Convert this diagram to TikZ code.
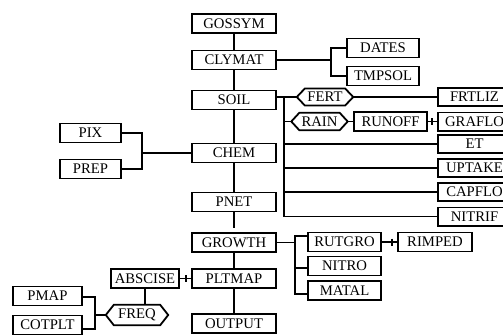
\documentclass[tikz,border=0pt]{standalone}
\usepackage{fontspec}
\setmainfont{Liberation Serif}
\tikzset{
  wire/.style={line width=1.8pt},
  box/.style={draw, line width=1.8pt, inner sep=0pt, minimum height=19pt,
    font=\fontsize{14.7}{16}\selectfont},
  mainbox/.style={box, minimum width=84.2pt},
  colbox/.style={box, minimum width=73.2pt, minimum height=18.2pt},
  hexcore/.style={inner sep=0pt, font=\fontsize{14.7}{16}\selectfont},
}
% hexagon: name, x, y, top edge width, height, text
\newcommand\hexagonnode[6]{%
  \node[hexcore, minimum width=#4pt, minimum height=#5pt] (#1) at (#2,#3) {#6};
  \coordinate (#1L) at ([xshift=-8pt]#1.west);
  \coordinate (#1R) at ([xshift=8pt]#1.east);
  \draw[wire] (#1.north west) -- (#1.north east) -- (#1R) -- (#1.south east)
    -- (#1.south west) -- (#1L) -- cycle;
}
% short vertical tick just before a box
\newcommand\junctiontick[1]{%
  \draw[wire] ([xshift=-5pt]#1.west) +(0,-3.5) -- +(0,3.5);
}
\begin{document}
\begin{tikzpicture}[x=1pt,y=-1pt]
\clip (0,0) rectangle (503,335);

% main column
\node[mainbox] (gossym) at (234,23.5) {GOSSYM};
\node[mainbox] (clymat) at (234,60) {CLYMAT};
\node[mainbox] (soil)   at (234,100) {SOIL};
\node[mainbox] (chem)   at (234,153) {CHEM};
\node[mainbox] (pnet)   at (234,202) {PNET};
\node[mainbox] (growth) at (234,242.5) {GROWTH};
\node[mainbox] (pltmap) at (234,278.5) {PLTMAP};
\node[mainbox] (output) at (234,323.5) {OUTPUT};

% climate branch
\node[box, minimum width=72.2pt] (dates)  at (383,48) {DATES};
\node[box, minimum width=72.2pt] (tmpsol) at (383,76) {TMPSOL};

% chemistry inputs
\node[box, minimum width=61.2pt] (pix)  at (90.5,133) {PIX};
\node[box, minimum width=61.2pt] (prep) at (90.5,169) {PREP};

% soil branch
\hexagonnode{fert}{325}{97}{40}{16.5}{FERT}
\hexagonnode{rain}{319.5}{121.5}{40}{17}{RAIN}
\node[box, minimum width=73.2pt] (runoff) at (390.5,121.5) {RUNOFF};
\node[colbox] (frtliz) at (474.5,97) {FRTLIZ};
\node[colbox] (graflo) at (474.5,121.5) {GRAFLO};
\node[colbox] (et)     at (474.5,144) {ET};
\node[colbox] (uptake) at (474.5,168) {UPTAKE};
\node[colbox] (capflo) at (474.5,192) {CAPFLO};
\node[colbox] (nitrif) at (474.5,216.5) {NITRIF};

% growth branch
\node[box, minimum width=73.2pt] (rutgro) at (344.5,242) {RUTGRO};
\node[box, minimum width=73.2pt] (nitro)  at (344.5,266) {NITRO};
\node[box, minimum width=73.2pt] (matal)  at (344.5,290.5) {MATAL};
\node[box, minimum width=74.2pt] (rimped) at (435,242) {RIMPED};

% plotting branch
\node[box, minimum width=68.2pt] (abscise) at (145,278.5) {ABSCISE};
\hexagonnode{freq}{137}{315}{46}{20}{FREQ}
\node[box, minimum width=69.2pt] (pmap)   at (47.5,296) {PMAP};
\node[box, minimum width=69.2pt] (cotplt) at (47.5,325) {COTPLT};

% main column links
\draw[wire] (gossym) -- (clymat);
\draw[wire] (clymat) -- (soil);
\draw[wire] (soil) -- (chem);
\draw[wire] (chem) -- (pnet);
\draw[wire, shorten >=4pt] (pnet) -- (growth);
\draw[wire] (growth) -- (pltmap);
\draw[wire] (pltmap) -- (output);

% climate bus
\coordinate (cb) at (331,60);
\draw[wire] (clymat.east) -- (cb);
\draw[wire] (dates.west) -| (cb) |- (tmpsol.west);

% chemistry bus
\coordinate (pb) at (142,153);
\draw[wire] (pix.east) -| (pb) |- (prep.east);
\draw[wire] (pb) -- (chem.west);

% soil bus
\coordinate (sb) at (284,97);
\draw[wire] ([yshift=3pt]soil.east) -- (fertL);
\draw[wire] (sb) -- (sb |- nitrif.west);
\draw[wire] (sb |- rainL) -- (rainL);
\draw[wire] (sb |- et.west) -- (et.west);
\draw[wire] (sb |- uptake.west) -- (uptake.west);
\draw[wire] (sb |- capflo.west) -- (capflo.west);
\draw[wire] (sb |- nitrif.west) -- (nitrif.west);
\draw[wire] (fertR) -- (frtliz.west);
\draw[wire] (rainR) -- (runoff.west);
\draw[wire] (runoff.east) -- (graflo.west);
\junctiontick{graflo}

% growth bus
\coordinate (gb) at (295,242.5);
\coordinate (rutIn) at ([yshift=6pt]rutgro.west);
\coordinate (nitIn) at ([yshift=-2pt]nitro.west);
\coordinate (matIn) at ([yshift=-3.5pt]matal.west);
\draw[wire] (growth.east) -- (gb);
\draw[wire] (rutIn) -| (gb |- matIn) -- (matIn);
\draw[wire] (gb |- nitIn) -- (nitIn);
\draw[wire] (rutgro.east) -- (rimped.west);
\junctiontick{rimped}

% plotting links
\draw[wire] (abscise.east) -- (pltmap.west);
\junctiontick{pltmap}
\draw[wire] (abscise.south) -- (abscise.south |- freq.north);
\coordinate (fb) at (95,315);
\coordinate (pmIn) at ([yshift=-1pt]pmap.east);
\coordinate (coIn) at ([yshift=-4pt]cotplt.east);
\draw[wire] (pmIn) -| (fb |- coIn) -- (coIn);
\draw[wire] (fb) -- (freqL);
\end{tikzpicture}
\end{document}
